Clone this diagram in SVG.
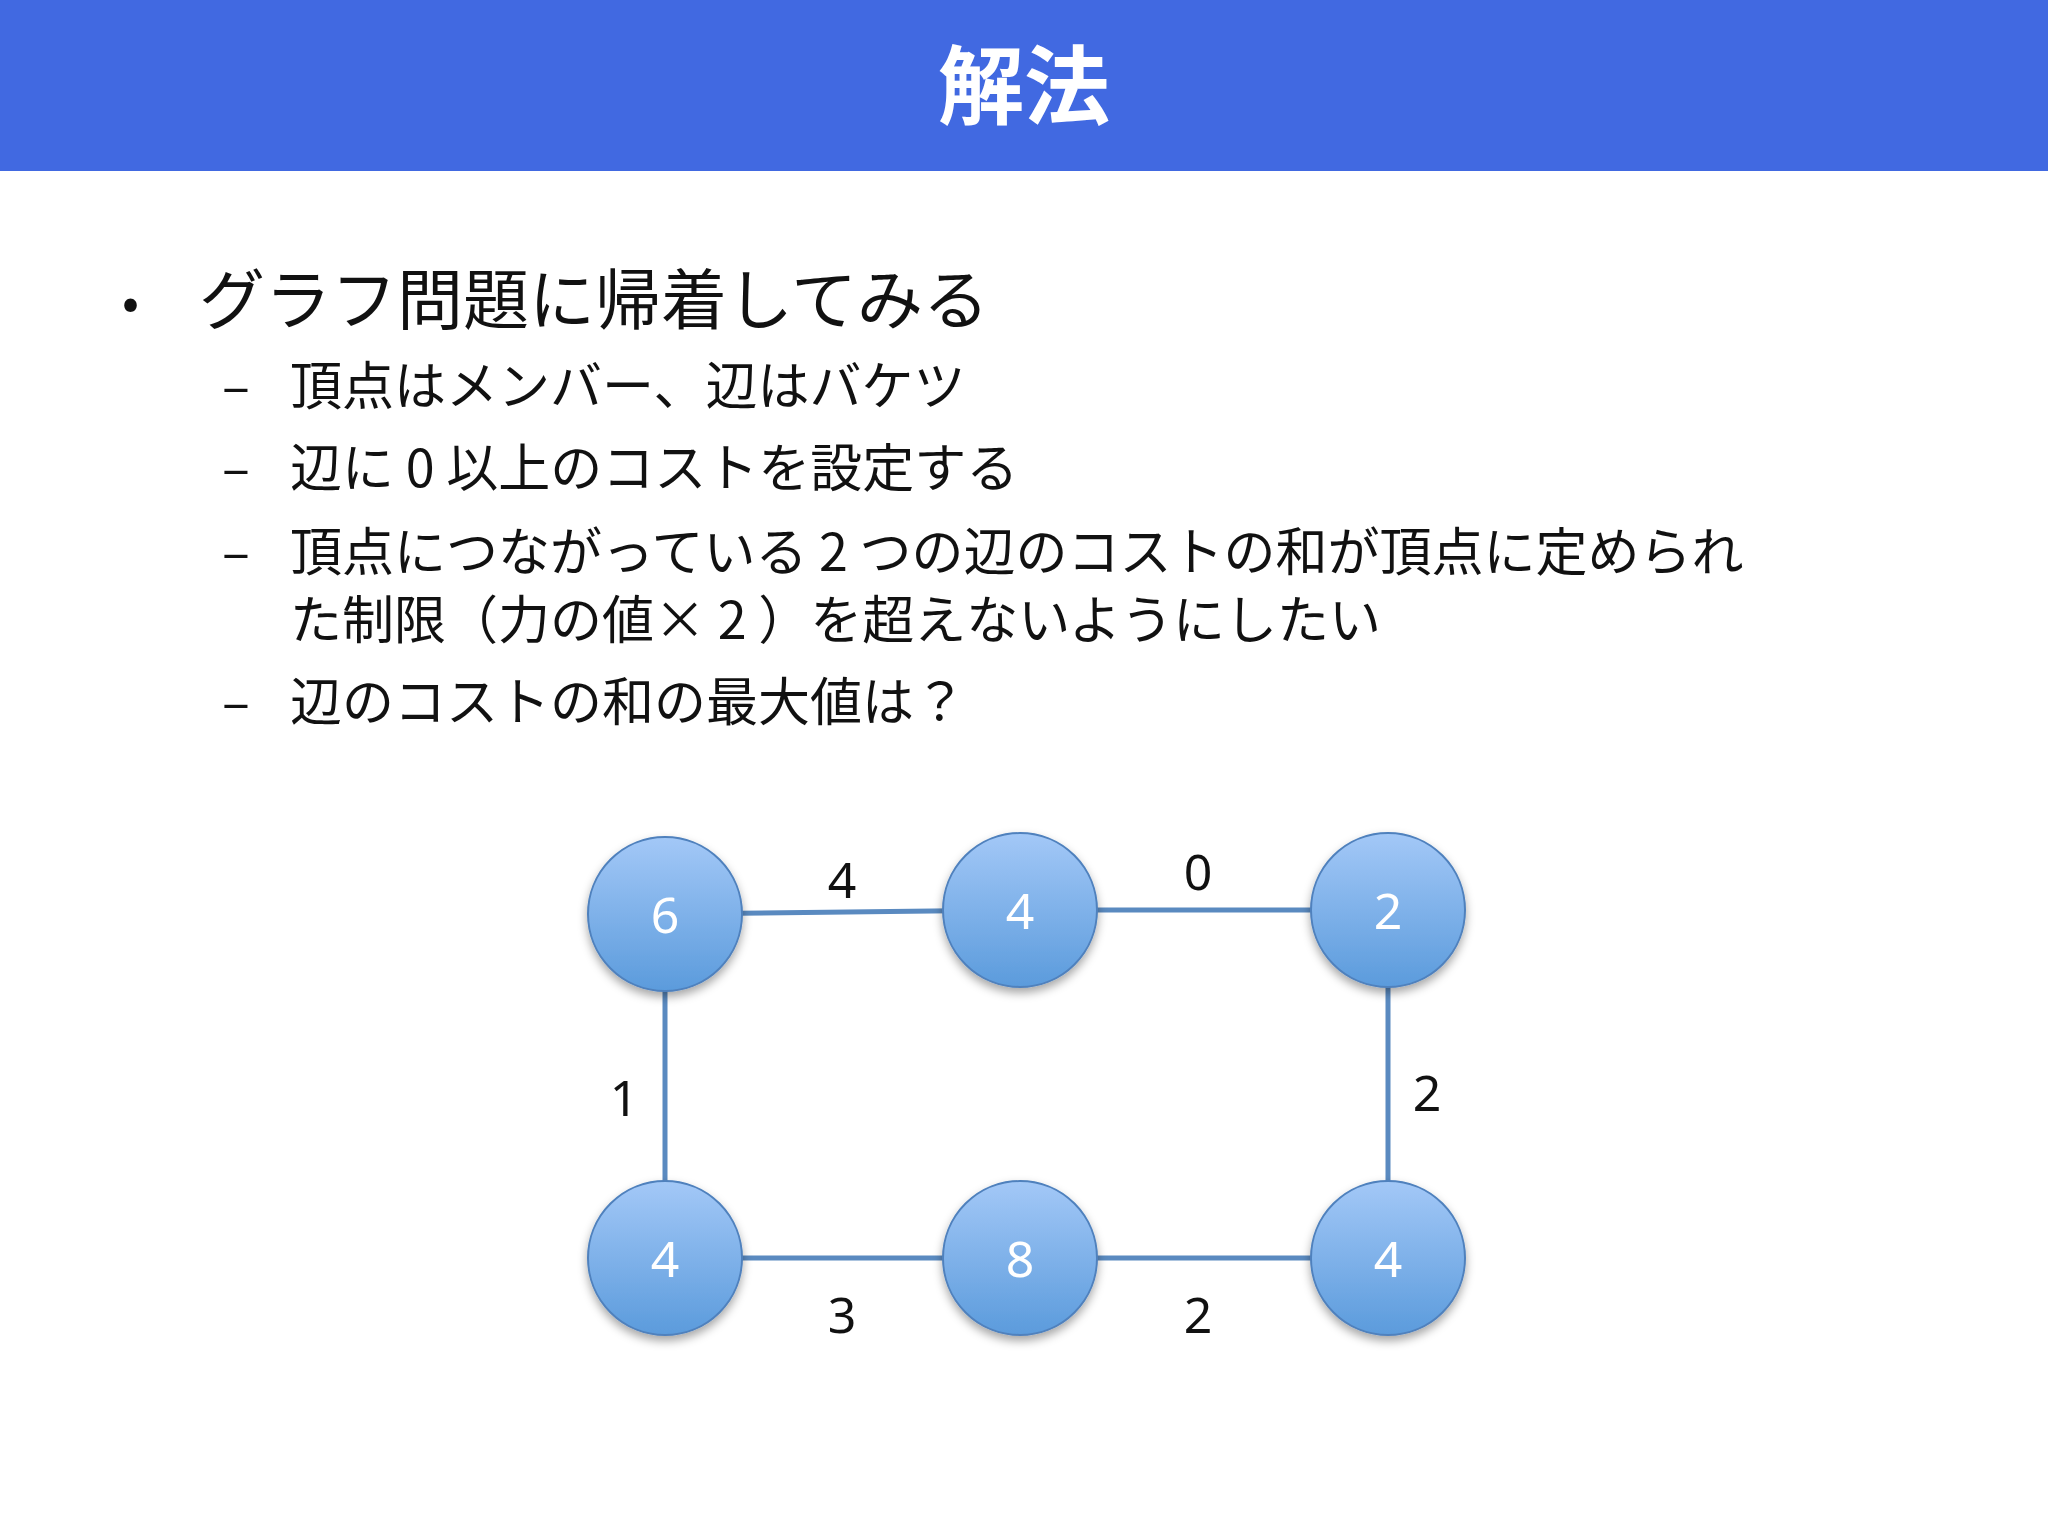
<svg xmlns="http://www.w3.org/2000/svg" width="2048" height="1536" viewBox="0 0 2048 1536">
<defs>
<linearGradient id="g" x1="0" y1="0" x2="0" y2="1"><stop offset="0" stop-color="#a3c8f7"/><stop offset="1" stop-color="#5b9bdc"/></linearGradient>
<filter id="sh" x="-30%" y="-30%" width="160%" height="170%"><feDropShadow dx="0" dy="5" stdDeviation="5" flood-color="#000" flood-opacity="0.35"/></filter>
</defs>
<style>
.t{font-family:"Noto Sans CJK JP","Noto Sans",sans-serif;fill:#111}
.n{font-family:"Noto Sans","Liberation Sans",sans-serif;font-size:50px;fill:#fff;text-anchor:middle;dominant-baseline:central}
.e{font-family:"Noto Sans","Liberation Sans",sans-serif;font-size:50px;fill:#111;text-anchor:middle;dominant-baseline:central}
.c{fill:url(#g);stroke:#4f81bd;stroke-width:2;filter:url(#sh)}
line{stroke:#5a8ac0;stroke-width:5}
</style>
<rect x="0" y="0" width="2048" height="171" fill="#4169e1"/>
<text x="1024" y="118" text-anchor="middle" font-family="Noto Sans CJK JP,sans-serif" font-weight="bold" font-size="86" fill="#fff">解法</text>
<text class="t" x="122" y="320" font-size="50">•</text>
<text class="t" x="199" y="324" font-size="66">グラフ問題に帰着してみる</text>
<g class="t" font-size="52">
<text x="222" y="405">–</text><text x="290" y="405">頂点はメンバー、辺はバケツ</text>
<text x="222" y="487">–</text><text x="290" y="487">辺に 0 以上のコストを設定する</text>
<text x="222" y="571">–</text><text x="290" y="571">頂点につながっている 2 つの辺のコストの和が頂点に定められ</text>
<text x="290" y="639">た制限（力の値× 2 ）を超えないようにしたい</text>
<text x="222" y="721">–</text><text x="290" y="721">辺のコストの和の最大値は？</text>
</g>
<g id="edges">
<line x1="665" y1="914" x2="1020" y2="910"/>
<line x1="1020" y1="910" x2="1388" y2="910"/>
<line x1="665" y1="914" x2="665" y2="1258"/>
<line x1="1388" y1="910" x2="1388" y2="1258"/>
<line x1="665" y1="1258" x2="1020" y2="1258"/>
<line x1="1020" y1="1258" x2="1388" y2="1258"/>
<text class="e" x="842" y="879">4</text>
<text class="e" x="1198" y="871">0</text>
<text class="e" x="624" y="1097">1</text>
<text class="e" x="1427" y="1092">2</text>
<text class="e" x="842" y="1314">3</text>
<text class="e" x="1198" y="1314">2</text>
</g>
<g id="n1"><circle class="c" cx="665" cy="914" r="77"/><text class="n" x="665" y="914">6</text></g>
<g id="n2"><circle class="c" cx="1020" cy="910" r="77"/><text class="n" x="1020" y="910">4</text></g>
<g id="n3"><circle class="c" cx="1388" cy="910" r="77"/><text class="n" x="1388" y="910">2</text></g>
<g id="n4"><circle class="c" cx="665" cy="1258" r="77"/><text class="n" x="665" y="1258">4</text></g>
<g id="n5"><circle class="c" cx="1020" cy="1258" r="77"/><text class="n" x="1020" y="1258">8</text></g>
<g id="n6"><circle class="c" cx="1388" cy="1258" r="77"/><text class="n" x="1388" y="1258">4</text></g>
</svg>
